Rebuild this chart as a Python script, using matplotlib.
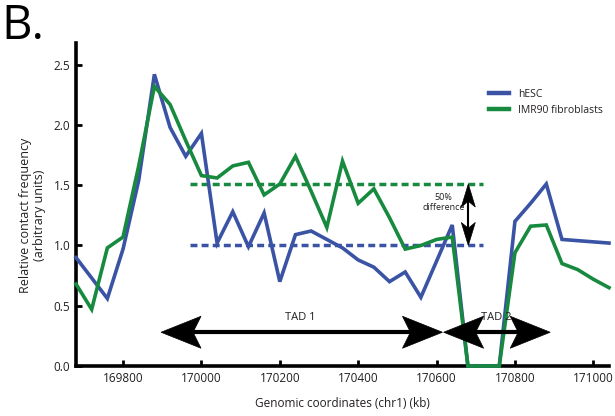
import matplotlib
matplotlib.use('Agg')
import matplotlib.pyplot as plt
from matplotlib.patches import Polygon
from matplotlib.lines import Line2D
from matplotlib.transforms import IdentityTransform
import numpy as np

plt.rcParams['font.family'] = ['Open Sans', 'DejaVu Sans']

# ---- data ----
coords = [169680, 169720, 169760, 169800, 169840, 169880, 169920, 169960,
          170000, 170040, 170080, 170120, 170160, 170200, 170240, 170280,
          170320, 170360, 170400, 170440, 170480, 170520, 170560, 170600,
          170640, 170680, 170720, 170760, 170800, 170840, 170880, 170920,
          170960, 171000, 171040]
hesc = [0.90, 0.73, 0.56, 0.97, 1.54, 2.42, 1.98, 1.74, 1.93, 1.02, 1.28, 0.99,
        1.27, 0.70, 1.09, 1.12, 1.05, 0.98, 0.88, 0.82, 0.70, 0.78, 0.57, 0.87,
        1.17, 0.0, 0.0, 0.0, 1.20, 1.35, 1.51, 1.05, 1.04, 1.03, 1.02]
imr90 = [0.68, 0.47, 0.98, 1.07, 1.66, 2.32, 2.17, 1.87, 1.58, 1.56, 1.66, 1.69,
         1.42, 1.51, 1.74, 1.45, 1.15, 1.70, 1.35, 1.47, 1.23, 0.97, 1.00, 1.05,
         1.07, 0.0, 0.0, 0.0, 0.94, 1.16, 1.17, 0.85, 0.80, 0.72, 0.65]
series_labels = ['hESC', 'IMR90 fibroblasts']
xticks = [169800, 170000, 170200, 170400, 170600, 170800, 171000]
yticks = [0.0, 0.5, 1.0, 1.5, 2.0, 2.5]
ytick_labels = ['0.0', '0.5', '1.0', '1.5', '2.0', '2.5']

level_hi = 1.51
level_lo = 1.00
dash_span = (169970, 170718)
diff_x = 170681
tad1 = (169897, 170615)
tad2 = (170618, 170890)
tad_y = 0.28

BLUE = '#3A53A4'
GREEN = '#178A3F'
TXT = '#231F20'

fig = plt.figure(figsize=(6.15, 4.16), dpi=100)
ax = fig.add_axes([76/615, 1-366/416, 533/615, (366-43)/416])

ax.plot(coords, hesc, color=BLUE, lw=2.6, solid_joinstyle='miter', clip_on=False,
        label=series_labels[0], zorder=3)
ax.plot(coords, imr90, color=GREEN, lw=2.6, solid_joinstyle='miter', clip_on=False,
        label=series_labels[1], zorder=3)

ax.plot(dash_span, [level_hi, level_hi], color=GREEN, lw=2.5,
        linestyle=(0, (2.0, 1.2)), zorder=2)
ax.plot(dash_span, [level_lo, level_lo], color=BLUE, lw=2.5,
        linestyle=(0, (2.0, 1.2)), zorder=2)

ax.set_xlim(169680, 171040)
ax.set_ylim(0, 2.68)
ax.set_xticks(xticks)
ax.set_xticklabels([str(v) for v in xticks])
ax.set_yticks(yticks)
ax.set_yticklabels(ytick_labels)
for s in ['top', 'right']:
    ax.spines[s].set_visible(False)
for s in ['left', 'bottom']:
    ax.spines[s].set_linewidth(2.6)
    ax.spines[s].set_zorder(2.5)
ax.tick_params(direction='in', length=4, width=2, labelsize=8.5,
               labelcolor=TXT, pad=4)

ax.set_ylabel('Relative contact frequency\n(arbitrary units)', fontsize=9,
              color=TXT, linespacing=1.15)
ax.yaxis.set_label_coords(-0.056, 0.465)
ax.set_xlabel('Genomic coordinates (chr1) (kb)', fontsize=8.5, color=TXT)
ax.xaxis.set_label_coords(0.5, -0.095)
ax.xaxis.label.set_va('top')

leg = ax.legend(frameon=False, fontsize=7.5, handlelength=1.9, handletextpad=0.9,
                borderpad=0, borderaxespad=0, labelspacing=0.45, loc='upper left',
                bbox_to_anchor=(489/615, 1-89/416), bbox_transform=fig.transFigure)
for t in leg.get_texts():
    t.set_color(TXT)
for h in leg.get_lines():
    h.set_linewidth(3.2)


def head(tip, d, L, H, notch):
    tx, ty = ax.transData.transform(tip)
    dx, dy = d
    nx, ny = -dy, dx
    verts = [(tx, ty),
             (tx - dx*L + nx*H, ty - dy*L + ny*H),
             (tx - dx*L*notch, ty - dy*L*notch),
             (tx - dx*L - nx*H, ty - dy*L - ny*H)]
    fig.add_artist(Polygon(verts, closed=True, transform=IdentityTransform(),
                           facecolor='black', edgecolor='black', lw=0.5, zorder=6))


def double_arrow(p0, p1, L, H, notch, lw):
    a = np.array(ax.transData.transform(p0))
    b = np.array(ax.transData.transform(p1))
    d = (b - a) / np.linalg.norm(b - a)
    s0 = a + d * L * 0.6
    s1 = b - d * L * 0.6
    fig.add_artist(Line2D([s0[0], s1[0]], [s0[1], s1[1]], color='black', lw=lw,
                          transform=IdentityTransform(), solid_capstyle='butt', zorder=6))
    head(p1, tuple(d), L, H, notch)
    head(p0, tuple(-d), L, H, notch)


double_arrow((tad1[0], tad_y), (tad1[1], tad_y), 40, 16, 0.8, 3.0)
double_arrow((tad2[0], tad_y), (tad2[1], tad_y), 40, 16, 0.8, 3.0)
double_arrow((diff_x, level_lo), (diff_x, level_hi), 23, 7, 0.75, 1.5)

ax.text(170253, 0.40, 'TAD 1', fontsize=8, ha='center', va='center', color=TXT, zorder=7)
ax.text(170752, 0.40, 'TAD 2', fontsize=8, ha='center', va='center', color=TXT, zorder=7)
ax.text(170618, 1.357, '50%\ndifference', fontsize=6.5, ha='center', va='center',
        color=TXT, linespacing=1.15, zorder=7)

fig.text(0.003, 0.995, 'B.', fontsize=34, ha='left', va='top', color='black')

fig.savefig('out.png', dpi=100)
